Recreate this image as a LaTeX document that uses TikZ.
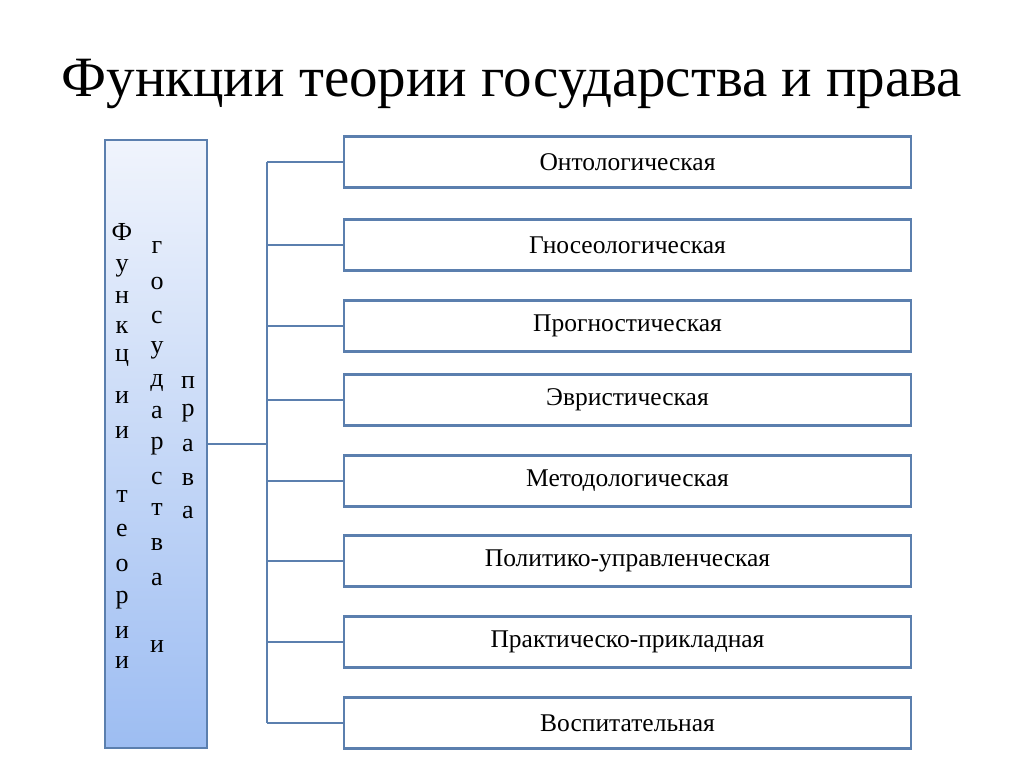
\documentclass[tikz,border=0pt]{standalone}
\usepackage{fontspec}
\setmainfont{Liberation Serif}
\begin{document}
\begin{tikzpicture}[x=1pt,y=-1pt,
  ln/.style={draw=lc,line width=2.4pt},
  fbox/.style={ln,fill=white,minimum width=567pt,minimum height=51pt,inner sep=0pt,font=\fontsize{25.5}{28}\selectfont},
  lt/.style={font=\fontsize{26}{28}\selectfont,inner sep=0pt}]
\definecolor{lc}{HTML}{5B7FAE}
\definecolor{gtop}{HTML}{F0F4FC}
\definecolor{gbot}{HTML}{9DBDF2}
\useasboundingbox (0,0) rectangle (1024,767);
\node[font=\fontsize{57}{62}\selectfont] (title) at (512,84) {Функции теории государства и права};
\node[draw=lc,line width=2.6pt,top color=gtop,bottom color=gbot,minimum width=102pt,minimum height=608pt,inner sep=0pt] (L) at (156,444) {};
\foreach \c/\y in {Ф/232,у/268,н/298,к/328,ц/358,и/398,и/433,т/497,е/530,о/565,р/600,и/633,и/663}
  \node[lt] at (122,\y) {\c};
\foreach \c/\y in {г/248,о/284,с/318,у/350,д/383,а/413,р/446,с/478,т/510,в/545,а/580,и/647}
  \node[lt] at (157,\y) {\c};
\foreach \c/\y in {п/383,р/413,а/446,в/480,а/513}
  \node[lt] at (188,\y) {\c};
\coordinate (J) at (267,444);
\coordinate (T) at (267,162);
\coordinate (B) at (267,723);
\draw[ln] (L.east |- J) -- (J);
\draw[ln] (T) -- (B);
\foreach \i/\y/\t in {1/162/Онтологическая,2/245/Гносеологическая,3/326/Прогностическая,4/400/Эвристическая,5/481/Методологическая,6/561/Политико-управленческая,7/642/Практическо-прикладная,8/723/Воспитательная}{
  \node[fbox] (b\i) at (627.5,\y) {\t};
  \draw[ln] (267,\y) -- (b\i.west);
}
\end{tikzpicture}
\end{document}
